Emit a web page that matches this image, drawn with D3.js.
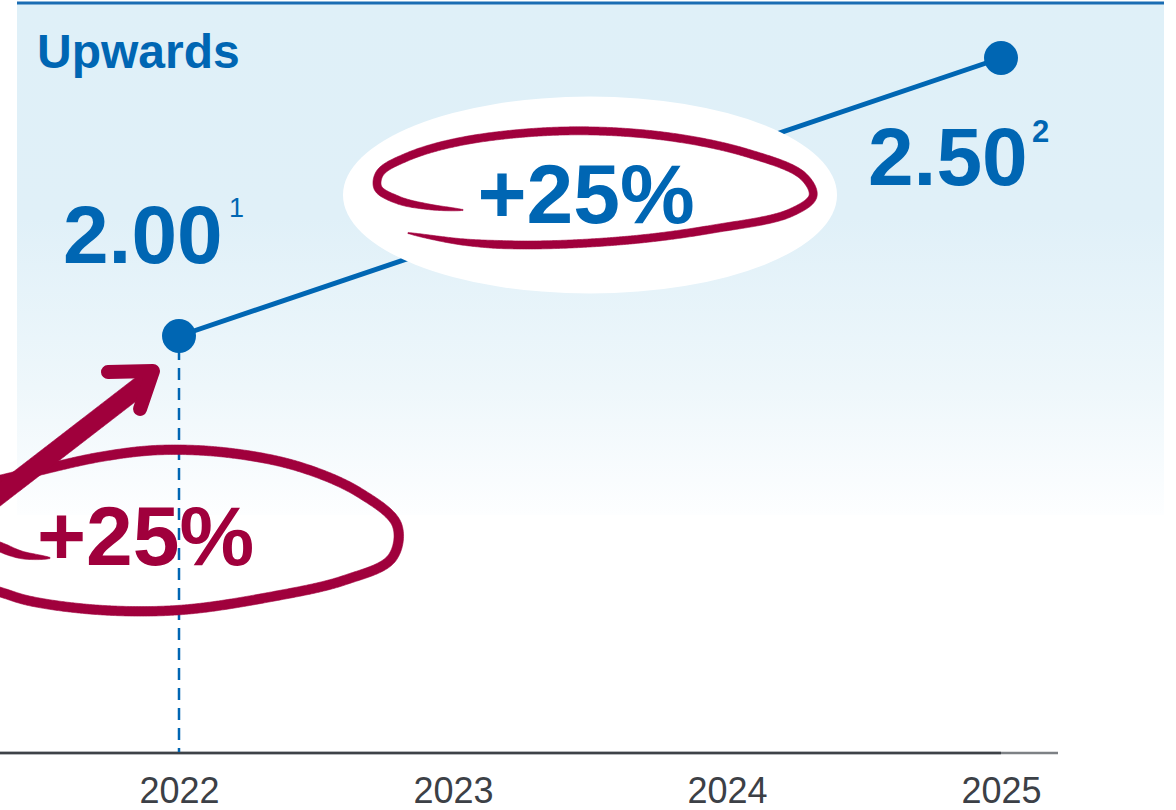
<!DOCTYPE html>
<html>
<head>
<meta charset="utf-8">
<script src="https://cdn.jsdelivr.net/npm/d3@7"></script>
<style>
  html, body { margin: 0; padding: 0; background: #ffffff; }
  svg { display: block; }
  text { font-family: "Liberation Sans", Arial, Helvetica, sans-serif; }
</style>
</head>
<body>
<svg id="chart" width="1176" height="810"></svg>
<script>
// ---- data ----
const years = [2022, 2025];
const values = [2.00, 2.50];
const footnotes = ["1", "2"];
const tickYears = [2022, 2023, 2024, 2025];
const title = "Upwards";
const growthLabels = ["+25%", "+25%"];

// ---- colours ----
const BLUE = "#0066b3";
const MAROON = "#a0003c";
const AXIS = "#3e4247";
const TICK_TEXT = "#3c4046";

const W = 1176, H = 810;
const svg = d3.select("#chart");

const x = d3.scaleLinear().domain([2022, 2025]).range([179, 1001]);
const y = d3.scaleLinear().domain([1.25, 2.5]).range([753, 58]);

// ---- background panel with fading gradient ----
const defs = svg.append("defs");
const grad = defs.append("linearGradient")
  .attr("id", "panelFade").attr("x1", 0).attr("y1", 0).attr("x2", 0).attr("y2", 1);
grad.append("stop").attr("offset", "0%").attr("stop-color", "#dff0f8");
grad.append("stop").attr("offset", "42%").attr("stop-color", "#e0f0f8");
grad.append("stop").attr("offset", "75%").attr("stop-color", "#eef7fb");
grad.append("stop").attr("offset", "100%").attr("stop-color", "#fdfeff");

svg.append("rect")
  .attr("x", 17).attr("y", 2).attr("width", 1147).attr("height", 513)
  .attr("fill", "url(#panelFade)");
svg.append("line")
  .attr("x1", 17).attr("x2", 1164).attr("y1", 3).attr("y2", 3)
  .attr("stroke", "#1a6db3").attr("stroke-width", 3);

svg.append("text")
  .attr("x", 37).attr("y", 68)
  .attr("font-size", 48).attr("font-weight", "bold")
  .attr("fill", BLUE).text(title);

// ---- x axis ----
const baseY = y(1.25);
svg.append("line")
  .attr("x1", 0).attr("x2", x(2025) + 57).attr("y1", baseY).attr("y2", baseY)
  .attr("stroke", "#7d8185").attr("stroke-width", 2.5);
svg.append("line")
  .attr("x1", 0).attr("x2", x(2025)).attr("y1", baseY).attr("y2", baseY)
  .attr("stroke", AXIS).attr("stroke-width", 2.5);

const axis = d3.axisBottom(x).tickValues(tickYears).tickFormat(d3.format("d")).tickSize(0).tickPadding(0);
const axisG = svg.append("g").attr("transform", `translate(0,${baseY})`).call(axis);
axisG.select(".domain").remove();
axisG.selectAll("text")
  .attr("y", 50).attr("dy", null)
  .attr("font-size", 36).attr("fill", TICK_TEXT)
  .attr("font-family", "'Liberation Sans', Arial, sans-serif");

// ---- dashed drop line from the first point ----
svg.append("line")
  .attr("x1", x(years[0])).attr("x2", x(years[0]))
  .attr("y1", y(values[0]) + 12).attr("y2", baseY - 1)
  .attr("stroke", BLUE).attr("stroke-width", 2.5)
  .attr("stroke-dasharray", "12,8");

// ---- value line ----
const pts = years.map((d, i) => [x(d), y(values[i])]);
svg.append("path")
  .attr("d", d3.line()(pts))
  .attr("fill", "none").attr("stroke", BLUE).attr("stroke-width", 5);

// ---- tapered hand-drawn stroke helper ----
const measure = svg.append("path").attr("fill", "none").attr("stroke", "none");
function taperedStroke(parent, ctrl, maxW, tStart, tEnd, minW) {
  const d = d3.line().curve(d3.curveCatmullRom.alpha(0.5))(ctrl);
  measure.attr("d", d);
  const node = measure.node();
  const L = node.getTotalLength();
  const step = 1.5;
  const samples = [];
  for (let s = 0; s <= L; s += step) samples.push([s, node.getPointAtLength(s)]);
  samples.push([L, node.getPointAtLength(L)]);
  const left = [], right = [];
  samples.forEach(([s, p], i) => {
    const a = samples[Math.max(0, i - 1)][1];
    const b = samples[Math.min(samples.length - 1, i + 1)][1];
    let dx = b.x - a.x, dy = b.y - a.y;
    const len = Math.hypot(dx, dy) || 1;
    const nx = -dy / len, ny = dx / len;
    const f = Math.min(1, s / tStart, (L - s) / tEnd);
    const w = Math.max(minW, maxW * Math.sqrt(Math.max(0, f)));
    left.push([p.x + nx * w / 2, p.y + ny * w / 2]);
    right.push([p.x - nx * w / 2, p.y - ny * w / 2]);
  });
  const outline = left.concat(right.reverse());
  parent.append("path")
    .attr("d", d3.line()(outline) + "Z")
    .attr("fill", MAROON).attr("stroke", MAROON).attr("stroke-width", 0.6)
    .attr("stroke-linejoin", "round");
}

// ---- highlighted growth between the two points ----
const midX = (x(years[0]) + x(years[1])) / 2;
const midY = (y(values[0]) + y(values[1])) / 2 - 2;
svg.append("ellipse")
  .attr("cx", midX).attr("cy", midY).attr("rx", 247).attr("ry", 98.5)
  .attr("fill", "#ffffff");

const midLoop = [
  [463, 210], [430, 207], [398, 200], [378, 188], [380, 173], [407, 157],
  [463, 141], [563, 131], [663, 136], [747, 153], [803, 176], [813, 196],
  [790, 213], [713, 229], [630, 240], [530, 245], [463, 242], [408, 233]
];
taperedStroke(svg, midLoop, 8, 70, 90, 1.2);

svg.append("text")
  .attr("x", midX - 4).attr("y", 223)
  .attr("text-anchor", "middle")
  .attr("font-size", 84).attr("font-weight", "bold")
  .attr("fill", BLUE).text(growthLabels[1]);

// ---- growth into the first point (arrow + circled label) ----
const lowLoop = [
  [50, 558], [22, 555], [0, 547], [-40, 530], [-60, 505], [-35, 488],
  [0, 480], [33, 472], [100, 457], [160, 450], [230, 453], [300, 467],
  [360, 493], [397, 525], [392, 558], [345, 580], [270, 597], [180, 610],
  [100, 610], [30, 601], [0, 592], [-40, 580]
];
taperedStroke(svg, lowLoop, 9.5, 45, 10, 1.2);

// arrow shaft, tapering toward the head
const tip = [x(years[0]) - 24, y(values[0]) + 38];
taperedStroke(svg, [[-18, 508], [tip[0] - 7, tip[1] + 6]], 19, 0.001, 0.001, 13);
svg.append("path")
  .attr("d", d3.line()([[108, 372], [tip[0] - 2, tip[1] - 3], [140, 409]]))
  .attr("fill", "none").attr("stroke", MAROON).attr("stroke-width", 14)
  .attr("stroke-linecap", "round").attr("stroke-linejoin", "round");

svg.append("text")
  .attr("x", 37).attr("y", 565)
  .attr("font-size", 84).attr("font-weight", "bold")
  .attr("fill", MAROON).text(growthLabels[0]);

// ---- points ----
svg.selectAll("circle.pt").data(pts).join("circle")
  .attr("class", "pt")
  .attr("cx", d => d[0]).attr("cy", d => d[1]).attr("r", 17)
  .attr("fill", BLUE);

// ---- value labels with footnote markers ----
const labelPos = [
  { x: 63, y: 263, sx: 229, sy: 217, sw: "normal", ss: 27 },
  { x: 868, y: 185, sx: 1032, sy: 142, sw: "bold", ss: 31 }
];
values.forEach((v, i) => {
  const p = labelPos[i];
  svg.append("text")
    .attr("x", p.x).attr("y", p.y)
    .attr("font-size", 82).attr("font-weight", "bold")
    .attr("fill", BLUE).text(d3.format(".2f")(v));
  svg.append("text")
    .attr("x", p.sx).attr("y", p.sy)
    .attr("font-size", p.ss).attr("font-weight", p.sw)
    .attr("fill", BLUE).text(footnotes[i]);
});
</script>
</body>
</html>
